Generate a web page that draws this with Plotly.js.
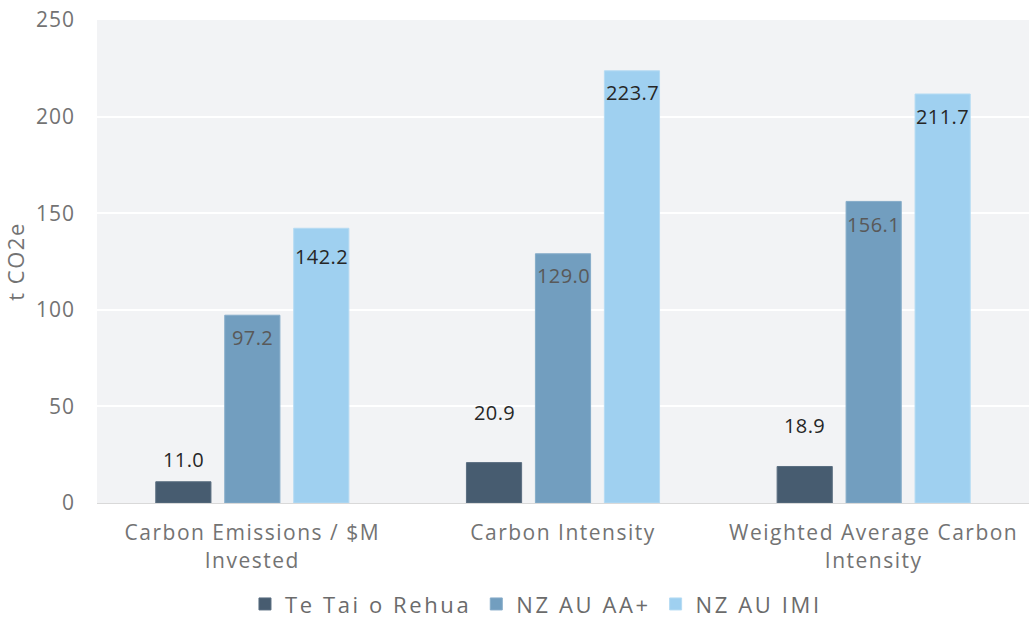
<!DOCTYPE html>
<html>
<head>
<meta charset="utf-8">
<script src="https://cdn.plot.ly/plotly-3.0.1.min.js"></script>
<style>
html,body{margin:0;padding:0;background:#fff;}
#chart{width:1029px;height:619px;}
.xtick text{letter-spacing:1.5px;}
.ytick text{letter-spacing:1px;}
.legendtext{letter-spacing:2.6px;}
.g-ytitle text{letter-spacing:1.5px;}
.annotation-text{letter-spacing:0.4px;}
</style>
</head>
<body>
<div id="chart"></div>
<script>
const categories = ["Carbon Emissions / $M<br>Invested", "Carbon Intensity", "Weighted Average Carbon<br>Intensity"];
const seriesNames = ["Te Tai o Rehua", "NZ AU AA+", "NZ AU IMI"];
const teTaiORehua = [11.0, 20.9, 18.9];
const nzAuAA = [97.2, 129.0, 156.1];
const nzAuIMI = [142.2, 223.7, 211.7];
const yTicks = [0, 50, 100, 150, 200, 250];

const seriesValues = [teTaiORehua, nzAuAA, nzAuIMI];
const colors = ["#475c70", "#729ebf", "#9fd0f0"];
const lineColors = ["#5a6e80", "#86acc9", "#b5dbf3"];
const labelColors = ["#262626", "#595959", "#262626"];
// pixel offsets of the value labels (position only)
const labelShifts = [[22, 50, 41], [-22, -22, -23], [-28, -22, -22]];
const xShifts = [-69, 0, 69];

const FONT = "'Open Sans', Lato, sans-serif";
const AXC = "#737373";

const traces = seriesValues.map((vals, i) => ({
  type: "bar",
  name: seriesNames[i],
  x: categories,
  y: vals,
  marker: {color: colors[i], line: {color: lineColors[i], width: 1}},
  hoverinfo: "none"
}));

const annotations = [];
seriesValues.forEach((vals, i) => {
  vals.forEach((v, j) => {
    annotations.push({
      x: categories[j], y: v, xref: "x", yref: "y",
      text: v.toFixed(1), showarrow: false,
      xshift: xShifts[i], yshift: labelShifts[i][j],
      yanchor: "middle", xanchor: "center",
      font: {family: FONT, size: 20, color: labelColors[i]}
    });
  });
});

const layout = {
  width: 1029, height: 619,
  margin: {l: 97, r: 0, t: 20, b: 116, autoexpand: false},
  paper_bgcolor: "#ffffff",
  plot_bgcolor: "#f2f3f5",
  barmode: "group",
  bargap: 0.334,
  bargroupgap: 0.2,
  font: {family: FONT, size: 21, color: AXC},
  xaxis: {
    type: "category",
    showgrid: false,
    showline: true, linecolor: "#d9d9d9", linewidth: 1,
    ticks: "",
    ticklabelstandoff: 11,
    tickfont: {family: FONT, size: 21, color: AXC},
    zeroline: false
  },
  yaxis: {
    range: [0, 250],
    tickvals: yTicks,
    ticktext: yTicks.map(String),
    gridcolor: "#ffffff", gridwidth: 2,
    zeroline: false,
    showline: false,
    ticks: "",
    ticklen: 0,
    ticklabelstandoff: 21,
    tickfont: {family: FONT, size: 21, color: AXC},
    title: {text: "t CO2e", font: {family: FONT, size: 22, color: AXC}, standoff: 12}
  },
  showlegend: true,
  legend: {
    orientation: "h",
    x: 0.471, xanchor: "center",
    yref: "container",
    y: 0.024, yanchor: "middle",
    font: {family: FONT, size: 22, color: "#6b6b6b"},
    bgcolor: "rgba(0,0,0,0)"
  },
  annotations: annotations
};

Plotly.newPlot("chart", traces, layout, {displayModeBar: false, staticPlot: true});
</script>
</body>
</html>
